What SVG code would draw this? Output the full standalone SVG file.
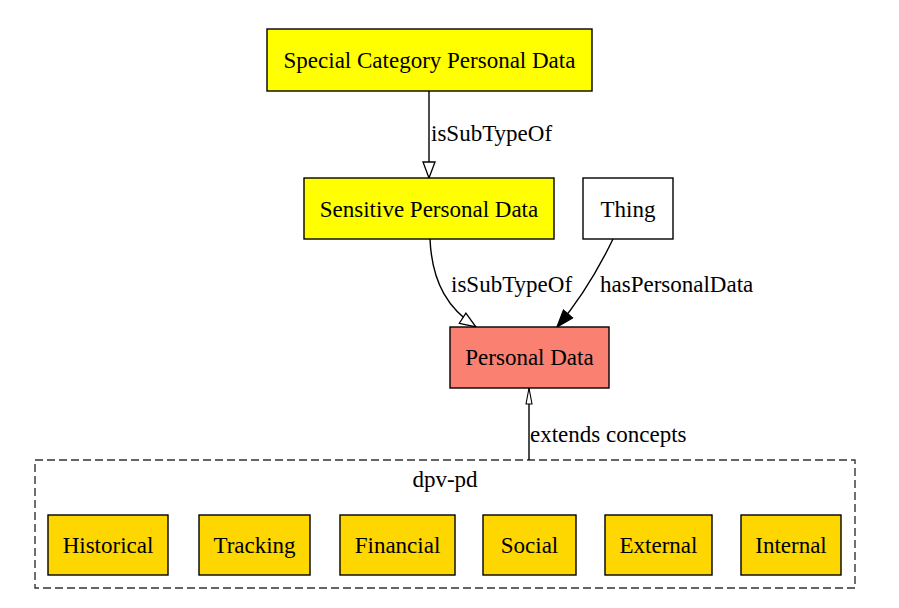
<svg xmlns="http://www.w3.org/2000/svg" width="899" height="608" viewBox="0 0 899 608">
<style>
text{font-family:"Liberation Serif","Times New Roman",serif;font-size:23px;fill:#000}
.n{stroke:#000;stroke-width:1.4}
.e{fill:none;stroke:#000;stroke-width:1.4}
.c{text-anchor:middle}
</style>
<defs>
<marker id="open" markerWidth="18" markerHeight="14" refX="17" refY="7" orient="auto" markerUnits="userSpaceOnUse"><path d="M1,1 L17,7 L1,13 Z" fill="#fff" stroke="#000" stroke-width="1.3"/></marker>
<marker id="filled" markerWidth="19" markerHeight="14" refX="18" refY="7" orient="auto" markerUnits="userSpaceOnUse"><path d="M1,1 L18,7 L1,13 Z" fill="#000" stroke="#000" stroke-width="1.3"/></marker>
<marker id="small" markerWidth="18" markerHeight="8" refX="17" refY="4" orient="auto" markerUnits="userSpaceOnUse"><path d="M1,1 L17,4 L1,7 Z" fill="#fff" stroke="#000" stroke-width="1.1"/></marker>
</defs>
<rect width="899" height="608" fill="#fff"/>
<g id="cluster-dpv-pd">
<rect x="35" y="460" width="820" height="128" fill="none" stroke="#333" stroke-width="1.4" stroke-dasharray="8,4"/>
<text class="c" x="445" y="487">dpv-pd</text>
</g>
<g id="connectors">
<path class="e" d="M429,91 L429,178" marker-end="url(#open)"/>
<text x="431" y="141">isSubTypeOf</text>
<path class="e" d="M430,239 C432,285 450,310 476,327" marker-end="url(#open)"/>
<text x="451" y="292">isSubTypeOf</text>
<path class="e" d="M613,239 C598,270 580,300 557,327" marker-end="url(#filled)"/>
<text x="600" y="292">hasPersonalData</text>
<path class="e" d="M529,460 L529,388" marker-end="url(#small)"/>
<text x="530" y="442">extends concepts</text>
</g>
<g id="special-category-personal-data">
<rect class="n" x="267" y="29" width="325" height="62" fill="#ffff00"/>
<text class="c" x="429.5" y="68">Special Category Personal Data</text>
</g>
<g id="sensitive-personal-data">
<rect class="n" x="304" y="178" width="250" height="61" fill="#ffff00"/>
<text class="c" x="429" y="217">Sensitive Personal Data</text>
</g>
<g id="thing">
<rect class="n" x="583" y="178" width="90" height="61" fill="#fff"/>
<text class="c" x="628" y="217">Thing</text>
</g>
<g id="personal-data">
<rect class="n" x="450" y="327" width="159" height="61" fill="#fa8072"/>
<text class="c" x="529.5" y="365">Personal Data</text>
</g>
<g id="historical">
<rect class="n" x="48" y="515" width="120" height="60" fill="#ffd700"/>
<text class="c" x="108" y="553">Historical</text>
</g>
<g id="tracking">
<rect class="n" x="199" y="515" width="111" height="60" fill="#ffd700"/>
<text class="c" x="254.5" y="553">Tracking</text>
</g>
<g id="financial">
<rect class="n" x="340" y="515" width="115" height="60" fill="#ffd700"/>
<text class="c" x="397.5" y="553">Financial</text>
</g>
<g id="social">
<rect class="n" x="483" y="515" width="93" height="60" fill="#ffd700"/>
<text class="c" x="529.5" y="553">Social</text>
</g>
<g id="external">
<rect class="n" x="605" y="515" width="107" height="60" fill="#ffd700"/>
<text class="c" x="658.5" y="553">External</text>
</g>
<g id="internal">
<rect class="n" x="741" y="515" width="100" height="60" fill="#ffd700"/>
<text class="c" x="791" y="553">Internal</text>
</g>
</svg>
